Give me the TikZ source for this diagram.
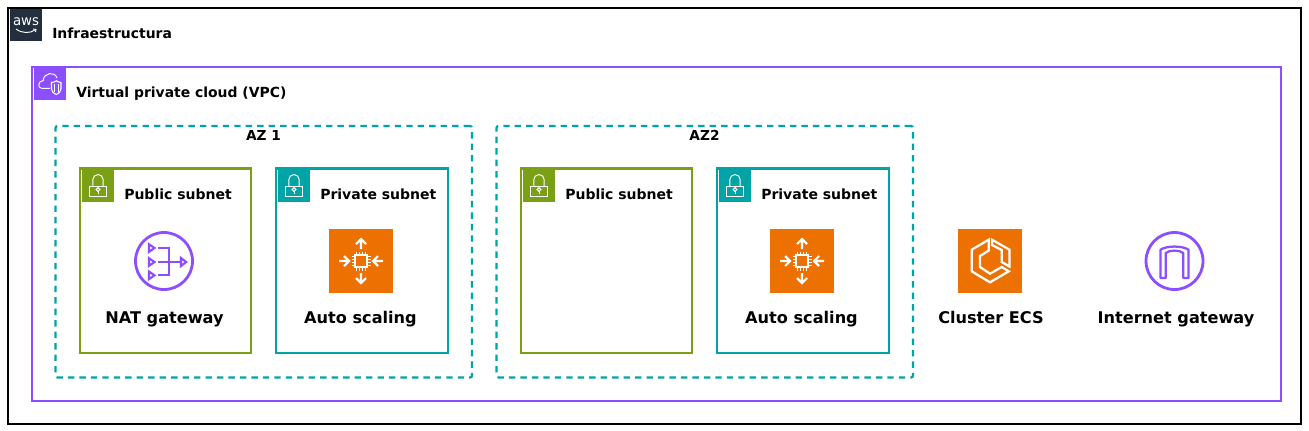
\documentclass[tikz,border=0pt]{standalone}
\usepackage{fontspec}
\setmainfont{DejaVu Sans}
\definecolor{awsdark}{HTML}{232F3E}
\definecolor{vpcpurple}{HTML}{8C4FFF}
\definecolor{azteal}{HTML}{00A4A6}
\definecolor{pubgreen}{HTML}{7AA116}
\definecolor{asgorange}{HTML}{ED7100}
\newcommand{\boxat}[6]{\node[#1,minimum width={(#5-#3)*.75pt},minimum height={(#6-#4)*.75pt}] (#2) at ({(#3+#5)/2},{(#4+#6)/2}) {};}
\tikzset{
  frame/.style={draw,fill=none,inner sep=0pt,outer sep=0pt,rectangle},
  infrabox/.style={frame,draw=black,line width=1.6pt},
  vpcbox/.style={frame,draw=vpcpurple,line width=1.7pt},
  azbox/.style={frame,draw=azteal,line width=1.7pt,dash pattern=on 4.8pt off 3.8pt,rounded corners=1.5pt},
  pubbox/.style={frame,draw=pubgreen,line width=1.7pt},
  privbox/.style={frame,draw=azteal,line width=1.7pt},
  tile/.style={rectangle,draw=none,inner sep=0pt,outer sep=0pt,fill=#1},
  grouptitle/.style={font=\bfseries\fontsize{10.45pt}{12pt}\selectfont,anchor=base west,inner sep=0pt,text=black},
  subtitle/.style={font=\bfseries\fontsize{10.5pt}{12pt}\selectfont,anchor=base west,inner sep=0pt,text=black},
  aztitle/.style={font=\bfseries\fontsize{10.3pt}{12pt}\selectfont,anchor=base,inner sep=0pt,text=black},
  svclabel/.style={font=\bfseries\fontsize{12.1pt}{14pt}\selectfont,anchor=base,inner sep=0pt,text=black},
  lockicon/.pic={
    \draw[white,line width=.7pt] (-8.5,0) rectangle (8.5,10.7);
    \draw[white,line width=.7pt] (-5.2,0) -- (-5.2,-6.3) arc[start angle=180,end angle=360,radius=5.2] -- (5.2,0);
    \draw[white,line width=.7pt] (0,3.5) circle[radius=1.9];
    \draw[white,line width=.7pt] (0,5.4) -- (0,8);
  },
  chipicon/.pic={
    \draw[white,line width=1.7pt] (-6,-6) rectangle (6,6);
    \foreach \k in {-4.5,-1.5,1.5,4.5}{
      \draw[white,line width=.9pt] (\k,-6) -- (\k,-9.5);
      \draw[white,line width=.9pt] (\k,6) -- (\k,9.5);
      \draw[white,line width=.9pt] (-6,\k) -- (-9.5,\k);
      \draw[white,line width=.9pt] (6,\k) -- (9.5,\k);
    }
    \draw[white,line width=1.6pt] (0,-12) -- (0,-22) (-5,-17) -- (0,-22) -- (5,-17);
    \draw[white,line width=1.6pt] (0,12) -- (0,22) (-5,17) -- (0,22) -- (5,17);
    \draw[white,line width=1.6pt] (-22,0) -- (-12,0) (-17,-5) -- (-12,0) -- (-17,5);
    \draw[white,line width=1.6pt] (22,0) -- (12,0) (17,-5) -- (12,0) -- (17,5);
  },
  ecsicon/.pic={
    \draw[white,line width=1.7pt,line join=miter]
      (-1.3,-10.5) -- (-1.3,-21.3) -- (-18.3,-11.3) -- (-18.3,10.3) -- (0,21.3) -- (18.7,10.3) -- (11.7,6) -- (0,12.7) -- (-10,6) -- (-10,-5) -- cycle;
    \draw[white,line width=1.7pt,line join=miter]
      (2,-21.3) -- (19.5,-11.3) -- (19.5,5.5) -- (11.7,1) -- (11.7,-11) -- (2,-16) -- cycle;
  },
  igwicon/.pic={
    \draw[vpcpurple,line width=2.1pt] (0,0) circle[radius=28.5];
    \draw[vpcpurple,line width=1.7pt,line join=round]
      (-14,17) -- (-14,-11.3) .. controls (-8,-15.5) and (8,-15.5) .. (14,-11.3) -- (14,17) -- (8.8,17) -- (8.8,-8) .. controls (5,-11.2) and (-5,-11.2) .. (-8.8,-8) -- (-8.8,17) -- cycle;
  },
  naticon/.pic={
    \draw[vpcpurple,line width=2.1pt] (0,0) circle[radius=28.5];
    \foreach \q in {-13,1,14.3}{
      \draw[vpcpurple,line width=1.6pt,line join=miter] (-15,\q-3.8) -- (-9.5,\q) -- (-15,\q+3.8) -- cycle;
    }
    \draw[vpcpurple,line width=1.7pt] (-6.2,-13) -- (5,-13) -- (5,14.3) -- (-6.2,14.3);
    \draw[vpcpurple,line width=1.7pt] (-6.2,1) -- (16,1);
    \draw[vpcpurple,line width=1.6pt,line join=miter] (17,-3) -- (22.2,1) -- (17,5) -- cycle;
  },
  awsmark/.pic={
    \node[font=\fontsize{10.5pt}{11pt}\selectfont,text=white,inner sep=0pt,anchor=base,xscale=.95] (awstext) at (0,0) {aws};
    \draw[white,line width=.7pt] (-10,4) .. controls (-4,8.5) and (4,8.5) .. (9,5);
    \draw[white,line width=.7pt] (7,4) -- (10,4.4) -- (9.5,7);
  },
  vpcicon/.pic={
    \draw[white,line width=.7pt,line join=round]
      (16,20.3) -- (7.7,20.3) .. controls (3.5,20.3) and (3.5,13) .. (9.3,12.5)
      .. controls (9.5,4.5) and (21,3) .. (23,10);
    \draw[white,line width=.8pt] (17.5,14.5) .. controls (20,14.5) and (21,13.5) .. (22.3,12.8) .. controls (23.6,13.5) and (25,14.5) .. (27,14.5)
      -- (27,21) .. controls (27,24) and (24.5,25.5) .. (22.3,26.5) .. controls (20,25.5) and (17.5,24) .. (17.5,21) -- cycle;
    \draw[white,line width=.7pt] (20.5,16) -- (20.5,23.5) (24,16) -- (24,23.5);
  },
}
\begin{document}
\begin{tikzpicture}[x=.75pt,y=-.75pt]
\useasboundingbox (0,0) rectangle (1309,430);
\fill[white] (0,0) rectangle (1309,430);

\boxat{infrabox}{infra}{8}{8}{1301}{424}
\boxat{vpcbox}{vpc}{32}{67}{1281}{401}
\boxat{azbox}{azone}{55.5}{126}{472}{377.5}
\boxat{azbox}{aztwo}{496.5}{126}{913}{377.5}
\boxat{pubbox}{pubone}{80}{168.5}{251}{353}
\boxat{privbox}{privone}{276}{168.5}{448}{353}
\boxat{pubbox}{pubtwo}{521}{168.5}{692}{353}
\boxat{privbox}{privtwo}{717}{168.5}{889}{353}

% header tiles
\boxat{tile=awsdark}{awstile}{10}{9}{42}{41}
\path (26,25) pic {awsmark};
\boxat{tile=vpcpurple}{vpctile}{34}{68}{66}{100}
\path (34,68) pic {vpcicon};
\boxat{tile=pubgreen}{locka}{82}{170}{114}{202}
\path (locka.center) pic {lockicon};
\boxat{tile=azteal}{lockb}{278}{170}{310}{202}
\path (lockb.center) pic {lockicon};
\boxat{tile=pubgreen}{lockc}{523}{170}{555}{202}
\path (lockc.center) pic {lockicon};
\boxat{tile=azteal}{lockd}{719}{170}{751}{202}
\path (lockd.center) pic {lockicon};

% service icons
\path (164,261) coordinate (natc) pic {naticon};
\boxat{tile=asgorange}{asgone}{329}{229}{393}{293}
\path (asgone.center) pic {chipicon};
\boxat{tile=asgorange}{asgtwo}{770}{229}{834}{293}
\path (asgtwo.center) pic {chipicon};
\boxat{tile=asgorange}{ecs}{958}{229}{1022}{293}
\path (ecs.center) pic {ecsicon};
\path (1174.5,261) coordinate (igwc) pic {igwicon};

% labels
\node[grouptitle] (tinfra) at (52,38) {Infraestructura};
\node[grouptitle] (tvpc) at (76,97) {Virtual private cloud (VPC)};
\node[aztitle] (taz1) at (263.5,140) {AZ 1};
\node[aztitle] (taz2) at (704.5,140) {AZ2};
\node[subtitle] (tpub1) at (124,199) {Public subnet};
\node[subtitle] (tpriv1) at (320,199) {Private subnet};
\node[subtitle] (tpub2) at (565,199) {Public subnet};
\node[subtitle] (tpriv2) at (761,199) {Private subnet};
\node[svclabel] (lnat) at (164.5,323.5) {NAT gateway};
\node[svclabel] (lasg1) at (360.5,323.5) {Auto scaling};
\node[svclabel] (lasg2) at (801.5,323.5) {Auto scaling};
\node[svclabel] (lecs) at (991,323.5) {Cluster ECS};
\node[svclabel] (ligw) at (1176,323.5) {Internet gateway};
\end{tikzpicture}
\end{document}
